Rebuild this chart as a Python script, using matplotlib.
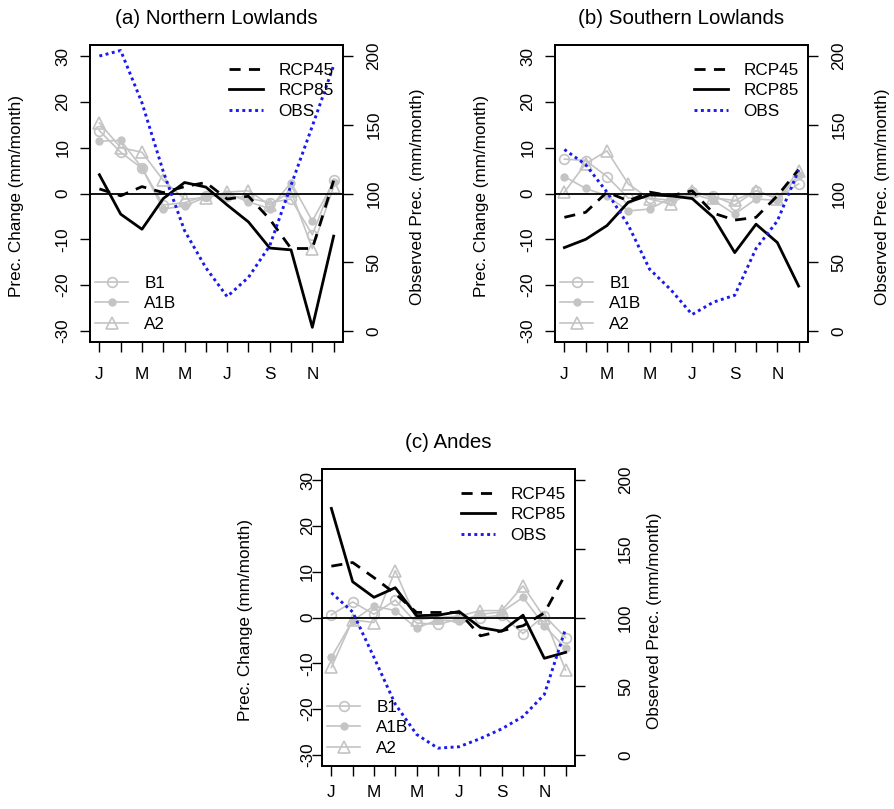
import matplotlib
matplotlib.use('Agg')
import matplotlib.pyplot as plt
from matplotlib.lines import Line2D
import numpy as np

plt.rcParams['font.family'] = ['Liberation Sans', 'DejaVu Sans']
plt.rcParams['axes.unicode_minus'] = False

months = np.arange(1, 13)
month_labels = ['J', '', 'M', '', 'M', '', 'J', '', 'S', '', 'N', '']
left_ticks = [-30, -20, -10, 0, 10, 20, 30]
right_ticks = [0, 50, 100, 150, 200]

# (a) Northern Lowlands
a_rcp45 = [1.0, -0.5, 1.5, 0.2, 1.5, 2.4, -1.2, -0.6, -5.6, -12.0, -12.0, 2.8]
a_rcp85 = [4.1, -4.5, -7.8, -1.1, 2.4, 1.4, -2.5, -6.2, -11.9, -12.3, -29.2, -9.3]
a_obs = [200, 204, 166, 116, 73, 46, 25, 39, 62, 106, 149, 193]
a_b1 = [13.7, 9.0, 5.5, -2.5, -2.0, -0.5, -0.5, -1.0, -2.0, -1.2, -9.0, 3.0]
a_a1b = [11.4, 11.6, 5.6, -3.4, -2.7, -0.8, 0.0, -1.8, -3.3, 2.4, -6.0, 2.5]
a_a2 = [15.4, 10.0, 9.0, 2.9, -1.2, -1.0, 0.3, 0.6, -2.5, 0.5, -12.0, 1.5]

# (b) Southern Lowlands
b_rcp45 = [-5.2, -4.1, 0.3, -1.6, 0.3, -0.5, 0.6, -4.3, -5.8, -5.2, -0.5, 5.2]
b_rcp85 = [-11.8, -10.0, -7.0, -1.9, -0.3, -0.5, -1.1, -5.2, -12.9, -6.7, -10.7, -20.2]
b_obs = [132, 121, 101, 77, 45, 30, 12, 21, 26, 60, 80, 117]
b_b1 = [7.5, 7.2, 3.7, -1.0, -1.0, -1.5, 0.3, -0.5, -2.5, 0.6, -1.0, 2.1]
b_a1b = [3.7, 1.1, -0.5, -3.8, -3.4, -1.0, 0.0, -1.5, -4.5, -1.2, -1.5, 4.0]
b_a2 = [0.3, 6.5, 9.3, 2.1, -1.2, -2.3, 0.6, -1.0, -1.5, 0.6, -1.2, 5.0]

# (c) Andes
c_rcp45 = [11.2, 12.0, 8.7, 5.2, 1.1, 1.1, 1.1, -4.0, -2.9, -1.8, 1.0, 9.5]
c_rcp85 = [23.8, 7.8, 4.4, 6.5, 0.4, 0.5, 1.3, -2.2, -3.0, 0.5, -8.9, -7.6]
c_obs = [118, 104, 71, 37, 15, 5, 6, 12, 19, 28, 44, 92]
c_b1 = [0.6, 3.4, 0.7, 3.8, -1.2, -1.5, -0.3, 0.0, 0.5, -3.5, 0.4, -4.4]
c_a1b = [-8.7, -0.7, 2.5, 1.5, -2.3, -0.5, -0.8, 0.7, 1.2, 4.4, -1.8, -6.7]
c_a2 = [-10.9, -0.5, -1.1, 10.2, -0.5, 0.0, 0.3, 1.5, 1.5, 6.9, 0.0, -11.5]

GRAY = '#C4C4C4'
BLUE = '#1a1aee'
FS = 12.3


def draw_panel(rect, title, rcp45, rcp85, obs, b1, a1b, a2,
               lpad=7, rpad=10, xpad=11, lab_l=-0.289, lab_r=1.296):
    ax = fig.add_axes(rect)
    ax2 = ax.twinx()

    # Szenarien B1 / A1B / A2 in grau
    ax.plot(months, b1, color=GRAY, lw=1.2, marker='o', ms=7, mfc='none', mec=GRAY, mew=1.2)
    ax.plot(months, a1b, color=GRAY, lw=1.2, marker='o', ms=5, mfc=GRAY, mec=GRAY)
    ax.plot(months, a2, color=GRAY, lw=1.2, marker='^', ms=8, mfc='none', mec=GRAY, mew=1.2)
    ax.axhline(0, color='black', lw=1.3)
    ax.plot(months, rcp45, color='black', lw=2, dashes=(4, 3))
    ax.plot(months, rcp85, color='black', lw=2)
    ax2.plot(months, obs, color=BLUE, lw=2.1, dashes=(1, 1.2))

    ax.set_xlim(0.56, 12.44)
    ax.set_ylim(-32.4, 32.4)
    ax2.set_ylim(-8, 208)

    ax.set_xticks(months)
    ax.set_xticklabels(month_labels, fontsize=FS)
    ax.set_yticks(left_ticks)
    ax.set_yticklabels([str(t) for t in left_ticks], rotation=90, va='center', fontsize=FS)
    ax2.set_yticks(right_ticks)
    ax2.set_yticklabels([str(t) for t in right_ticks], rotation=90, va='center', fontsize=FS)

    ax.tick_params(axis='x', direction='out', length=7, width=1, pad=xpad)
    ax.tick_params(axis='y', direction='out', length=7, width=1, pad=lpad)
    ax2.tick_params(axis='y', direction='out', length=7, width=1, pad=rpad)
    for a in (ax, ax2):
        for sp in a.spines.values():
            sp.set_linewidth(1.3)

    ax.set_ylabel('Prec. Change (mm/month)', fontsize=FS, va='center')
    ax.yaxis.set_label_coords(lab_l, 0.49)
    ax2.set_ylabel('Observed Prec. (mm/month)', fontsize=FS, va='center')
    ax2.yaxis.set_label_coords(lab_r, 0.49)
    ax.set_title(title, fontsize=14.8, pad=15)

    h1 = [Line2D([], [], color='black', lw=2, dashes=(4, 3)),
          Line2D([], [], color='black', lw=2),
          Line2D([], [], color=BLUE, lw=2.1, dashes=(1, 1.2))]
    ax2.legend(h1, ['RCP45', 'RCP85', 'OBS'], loc='upper right',
               bbox_to_anchor=(0.964, 0.94), frameon=False, borderpad=0,
               borderaxespad=0, handlelength=1.94, handletextpad=0.94,
               labelspacing=0.32, fontsize=FS)
    h2 = [Line2D([], [], color=GRAY, lw=1.2, marker='o', ms=7, mfc='none', mec=GRAY, mew=1.2),
          Line2D([], [], color=GRAY, lw=1.2, marker='o', ms=5, mfc=GRAY, mec=GRAY),
          Line2D([], [], color=GRAY, lw=1.2, marker='^', ms=8, mfc='none', mec=GRAY, mew=1.2)]
    ax.legend(h2, ['B1', 'A1B', 'A2'], loc='lower left',
              bbox_to_anchor=(0.02, 0.035), frameon=False, borderpad=0,
              borderaxespad=0, handlelength=1.94, handletextpad=0.94,
              labelspacing=0.32, fontsize=FS)


fig = plt.figure(figsize=(8.95, 8.09), dpi=100)
w, h = 253 / 895, 297 / 809
draw_panel([90 / 895, 467 / 809, w, h], '(a) Northern Lowlands',
           a_rcp45, a_rcp85, a_obs, a_b1, a_a1b, a_a2)
draw_panel([555 / 895, 467 / 809, w, h], '(b) Southern Lowlands',
           b_rcp45, b_rcp85, b_obs, b_b1, b_a1b, b_a2)
draw_panel([322 / 895, 43 / 809, w, h], '(c) Andes',
           c_rcp45, c_rcp85, c_obs, c_b1, c_a1b, c_a2,
           lpad=-2, rpad=24, xpad=7, lab_l=-0.304, lab_r=1.316)

fig.savefig('out.png', dpi=100)
